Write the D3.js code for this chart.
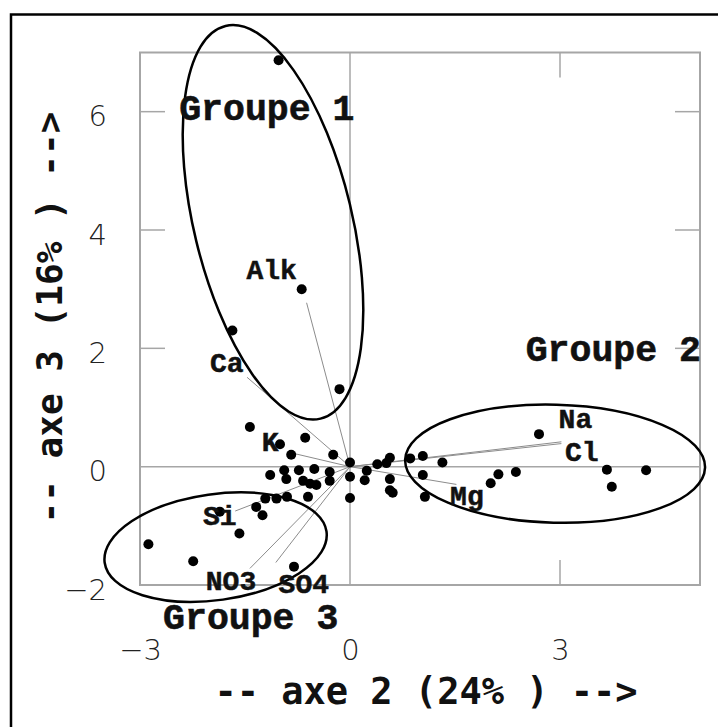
<!DOCTYPE html>
<html lang="fr">
<head>
<meta charset="UTF-8">
<title>ACP - axe 2 / axe 3</title>
<script src="https://d3js.org/d3.v7.min.js"></script>
<style>
  body { margin: 0; background: #fff; }
  svg { display: block; }
</style>
</head>
<body>
<svg id="chart"></svg>
<script>
// individus : coordonnees sur axe 2 et axe 3
const scoreX = [-1.02, -0.69, -1.68, -0.15, -1.43, -0.64, -1.00, -0.84, -0.24, 0.00, 0.00, 0.00,
  -1.14, -0.94, -0.91, -0.73, -0.51, -0.29, -0.29, -0.67, -0.57, -0.48, -0.60, -0.90, -1.05,
  -1.21, -1.34, -1.25, -1.58, -2.88, -2.24, -1.86, -0.80, 0.24, 0.21, 0.39, 0.52, 0.57, 0.57,
  0.57, 0.61, 0.86, 1.04, 1.04, 1.07, 1.32, 2.70, 3.67, 4.23, 3.74, 2.37, 2.12, 2.01];
const scoreY = [6.87, 3.00, 2.30, 1.31, 0.67, 0.49, 0.38, 0.20, 0.20, 0.07, -0.17, -0.53,
  -0.14, -0.06, -0.21, -0.06, -0.04, -0.09, -0.24, -0.24, -0.29, -0.31, -0.51, -0.51, -0.54,
  -0.54, -0.68, -0.82, -1.13, -1.31, -1.60, -0.76, -1.69, -0.07, -0.23, 0.04, 0.06, 0.15, -0.21,
  -0.40, -0.44, 0.14, 0.18, -0.14, -0.51, 0.07, 0.55, -0.05, -0.06, -0.34, -0.09, -0.13, -0.28];

// variables (extremites des segments)
const varNames = ["Alk", "Ca", "K", "Si", "NO3", "SO4", "Na", "Cl", "Mg"];
const varX = [-0.62, -1.47, -0.79, -1.64, -1.43, -1.06, 3.02, 3.02, 1.52];
const varY = [2.77, 1.51, 0.22, -0.75, -1.72, -1.62, 0.42, 0.39, -0.30];
const varLabelX = [-1.48, -2.00, -1.26, -2.10, -2.06, -1.02, 2.98, 3.07, 1.43];
const varLabelY = [3.17, 1.60, 0.27, -0.99, -2.09, -2.13, 0.65, 0.10, -0.65];

// groupes
const groupNames = ["Groupe 1", "Groupe 2", "Groupe 3"];
const groupX = [-1.10, 2.93, -1.92];
const groupY = [4.13, 0.05, -1.36];
const groupLabelX = [-2.44, 2.51, -2.67];
const groupLabelY = [5.86, 1.79, -2.74];

const xTicks = [-3, 0, 3];
const yTicks = [-2, 0, 2, 4, 6];

// forme des ellipses (px, degres)
const ellipseShape = [
  { rx: 79, ry: 202, rot: -13.6 },
  { rx: 150, ry: 59, rot: 1.5 },
  { rx: 112, ry: 53, rot: -8 }
];

const width = 718, height = 727;
const svg = d3.select("#chart").attr("width", width).attr("height", height);

const x = d3.scaleLinear().domain([-3, 5]).range([140, 700]);
const y = d3.scaleLinear().domain([-2, 7]).range([585, 52.5]);

const grey = "#a6a6a6";
const monoLab = "'Liberation Mono', 'Courier New', monospace";
const monoTitle = "'DejaVu Sans Mono', monospace";

// cadre exterieur (seulement haut et gauche visibles)
svg.append("path")
  .attr("d", `M11,${height + 5} L11,14.5 L${width + 5},14.5`)
  .attr("fill", "none").attr("stroke", "#000").attr("stroke-width", 2.5);

// cadre du graphique
svg.append("rect")
  .attr("x", x(-3)).attr("y", y(7))
  .attr("width", x(5) - x(-3)).attr("height", y(-2) - y(7))
  .attr("fill", "none").attr("stroke", grey).attr("stroke-width", 2);

// axes zero
svg.append("line").attr("x1", x(-3)).attr("x2", x(5)).attr("y1", y(0)).attr("y2", y(0))
  .attr("stroke", grey).attr("stroke-width", 1.5);
svg.append("line").attr("x1", x(0)).attr("x2", x(0)).attr("y1", y(7)).attr("y2", y(-2))
  .attr("stroke", grey).attr("stroke-width", 1.5);

// petites graduations interieures
const tickLen = 25;
const innerY = yTicks.filter(v => v > 0);
const innerX = xTicks.filter(v => v > 0);
const ticks = svg.append("g").attr("stroke", grey).attr("stroke-width", 1.5);
ticks.selectAll(".tl").data(innerY).join("line")
  .attr("x1", x(-3)).attr("x2", x(-3) + tickLen).attr("y1", d => y(d)).attr("y2", d => y(d));
ticks.selectAll(".tr").data(innerY).join("line")
  .attr("x1", x(5) - tickLen).attr("x2", x(5)).attr("y1", d => y(d)).attr("y2", d => y(d));
ticks.selectAll(".tt").data(innerX).join("line")
  .attr("x1", d => x(d)).attr("x2", d => x(d)).attr("y1", y(7)).attr("y2", y(7) + tickLen);
ticks.selectAll(".tb").data(innerX).join("line")
  .attr("x1", d => x(d)).attr("x2", d => x(d)).attr("y1", y(-2) - tickLen).attr("y2", y(-2));

// libelles des graduations
const fmt = d => (d < 0 ? "\u2212" + Math.abs(d) : String(d));
const xAxis = svg.append("g").attr("transform", `translate(0,${y(-2)})`)
  .call(d3.axisBottom(x).tickValues(xTicks).tickSize(0).tickFormat(fmt));
const yAxis = svg.append("g").attr("transform", `translate(${x(-3)},0)`)
  .call(d3.axisLeft(y).tickValues(yTicks).tickSize(0).tickFormat(fmt));
[xAxis, yAxis].forEach(g => {
  g.select(".domain").remove();
  g.selectAll("text")
    .attr("font-family", "'DejaVu Sans', sans-serif")
    .attr("font-weight", 200)
    .attr("font-size", 29)
    .attr("fill", "#222");
});
xAxis.selectAll("text").attr("y", 75).attr("dy", 0);
yAxis.selectAll("text").attr("x", -33).attr("dy", 14);

// segments des variables
svg.append("g").selectAll("line").data(varNames).join("line")
  .attr("x1", x(0)).attr("y1", y(0))
  .attr("x2", (d, i) => x(varX[i])).attr("y2", (d, i) => y(varY[i]))
  .attr("stroke", "#8c8c8c").attr("stroke-width", 1);

// points
svg.append("g").selectAll("circle").data(scoreX).join("circle")
  .attr("cx", d => x(d)).attr("cy", (d, i) => y(scoreY[i]))
  .attr("r", 5).attr("fill", "#000");

// ellipses des groupes
svg.append("g").selectAll("ellipse").data(groupNames).join("ellipse")
  .attr("transform", (d, i) => `translate(${x(groupX[i])},${y(groupY[i])}) rotate(${ellipseShape[i].rot})`)
  .attr("rx", (d, i) => ellipseShape[i].rx)
  .attr("ry", (d, i) => ellipseShape[i].ry)
  .attr("fill", "none").attr("stroke", "#000").attr("stroke-width", 2.5);

// noms des variables
svg.append("g").selectAll("text").data(varNames).join("text")
  .attr("x", (d, i) => x(varLabelX[i])).attr("y", (d, i) => y(varLabelY[i]))
  .attr("font-family", monoLab).attr("font-weight", "bold").attr("font-size", 28)
  .attr("fill", "#111").attr("stroke", "#111").attr("stroke-width", 0.5)
  .text(d => d);

// noms des groupes
svg.append("g").selectAll("text").data(groupNames).join("text")
  .attr("x", (d, i) => x(groupLabelX[i])).attr("y", (d, i) => y(groupLabelY[i]))
  .attr("font-family", monoLab).attr("font-weight", "bold").attr("font-size", 36.5)
  .attr("fill", "#111").attr("stroke", "#111").attr("stroke-width", 0.6)
  .text(d => d);

// titres des axes
svg.append("text")
  .attr("x", 426).attr("y", 704).attr("text-anchor", "middle")
  .attr("font-family", monoTitle).attr("font-weight", "bold").attr("font-size", 37)
  .attr("fill", "#111")
  .text("-- axe 2 (24% ) -->");
svg.append("text")
  .attr("transform", "translate(62,317.5) rotate(-90)").attr("text-anchor", "middle")
  .attr("font-family", monoTitle).attr("font-weight", "bold").attr("font-size", 36)
  .attr("fill", "#111")
  .text("-- axe 3 (16% ) -->");
</script>
</body>
</html>
